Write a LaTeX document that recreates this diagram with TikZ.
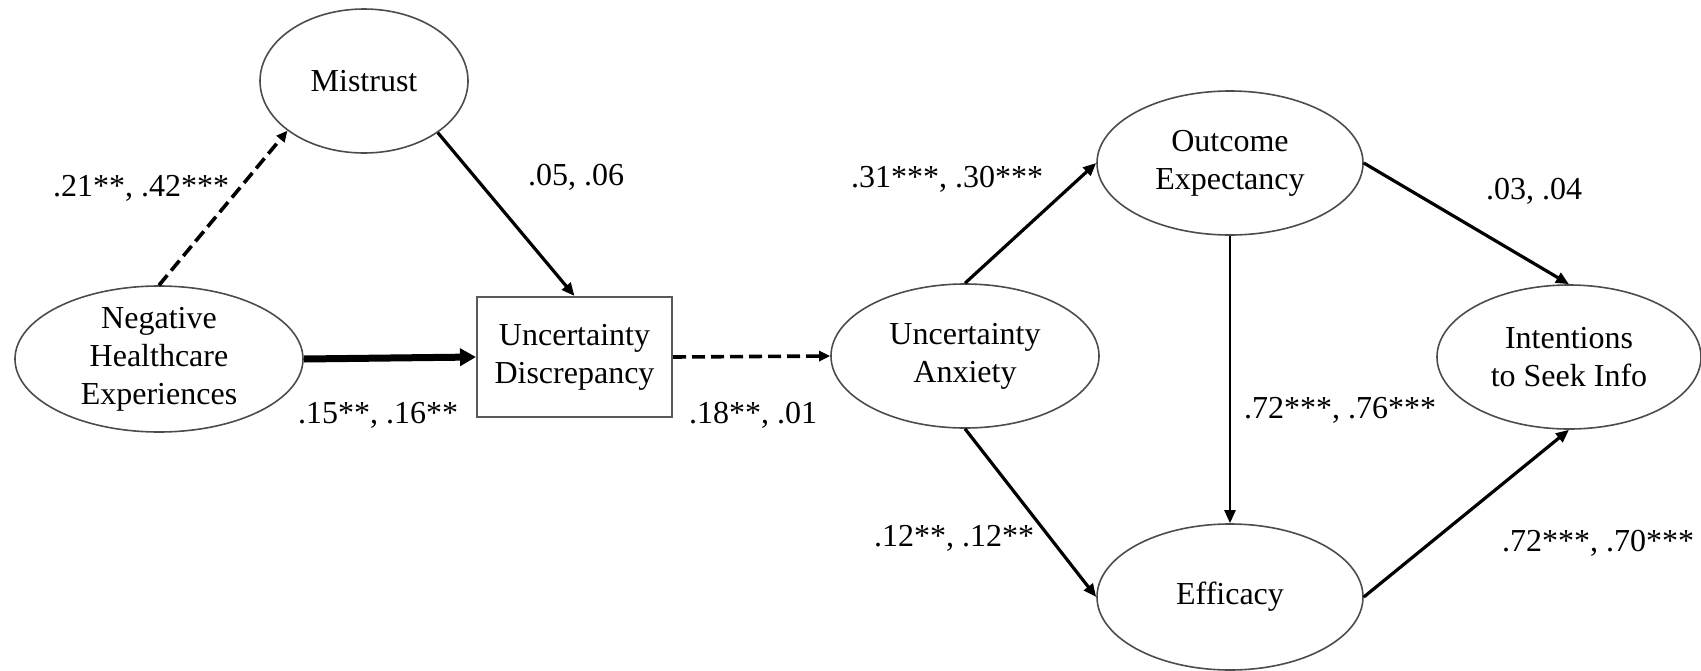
\documentclass[tikz,border=0pt]{standalone}
\usepackage{fontspec}
\setmainfont{Liberation Serif}
\usetikzlibrary{arrows.meta,shapes.geometric}
\begin{document}
\begin{tikzpicture}[x=1pt,y=-1pt,
  ell/.style={draw=black!70,line width=1.6pt,ellipse,inner sep=0pt},
  boxnode/.style={draw=black!65,line width=2pt,rectangle,inner sep=0pt,minimum width=195pt,minimum height=120pt},
  txt/.style={align=center,font=\fontsize{32}{38}\selectfont,inner sep=0pt},
  lbl/.style={font=\fontsize{32}{38}\selectfont,inner sep=0pt},
  arr/.style={line width=3.2pt,-{Triangle[length=13pt,width=11pt]}},
  thickarr/.style={line width=7pt,-{Triangle[length=16pt,width=17pt]}},
  dasharr/.style={line width=3.6pt,dash pattern=on 13pt off 6pt,-{Triangle[length=11pt,width=10pt]}}
]
\useasboundingbox (0,0) rectangle (1701,670);
% nodes
\node[ell,minimum width=208pt,minimum height=144pt] (mis) at (364,81) {};
\node[txt] (mist) at (mis) {Mistrust};
\node[ell,minimum width=288pt,minimum height=146pt] (neg) at (159,359) {};
\node[txt] (negt) at (neg) {Negative\\Healthcare\\Experiences};
\node[boxnode] (dis) at (574.5,357) {};
\node[txt] (dist) at (dis) {Uncertainty\\Discrepancy};
\node[ell,minimum width=268pt,minimum height=144pt] (anx) at (965,356) {};
\node[txt] (anxt) at (anx) {Uncertainty\\Anxiety};
\node[ell,minimum width=266pt,minimum height=144pt] (out) at (1230,163) {};
\node[txt] (outt) at (out) {Outcome\\Expectancy};
\node[ell,minimum width=264pt,minimum height=144pt] (int) at (1569,357) {};
\node[txt] (intt) at (int) {Intentions\\to Seek Info};
\node[ell,minimum width=266pt,minimum height=146pt] (eff) at (1230,597) {};
\node[txt] (efft) at (eff) {Efficacy};
% connectors
\draw[dasharr] (neg.north) -- (mis.213);
\draw[arr] (mis.325) -- (dis.north);
\draw[thickarr] (neg.east) -- (dis.west);
\draw[dasharr] (dis.east) -- (anx.west);
\draw[arr] (anx.north) -- (out.west);
\draw[arr] (anx.south) -- (eff.west);
\draw[arr,line width=2.4pt] (out.south) -- (eff.north);
\draw[arr] (out.east) -- (int.north);
\draw[arr] (eff.east) -- (int.south);
% labels
\node[lbl] (l1) at (141,188) {.21**, .42***};
\node[lbl] (l2) at (576,177) {.05, .06};
\node[lbl] (l3) at (378,415) {.15**, .16**};
\node[lbl] (l4) at (753,415) {.18**, .01};
\node[lbl] (l5) at (947,179) {.31***, .30***};
\node[lbl] (l6) at (1534,191) {.03, .04};
\node[lbl] (l7) at (1340,410) {.72***, .76***};
\node[lbl] (l8) at (954,538) {.12**, .12**};
\node[lbl] (l9) at (1598,543) {.72***, .70***};
\end{tikzpicture}
\end{document}
